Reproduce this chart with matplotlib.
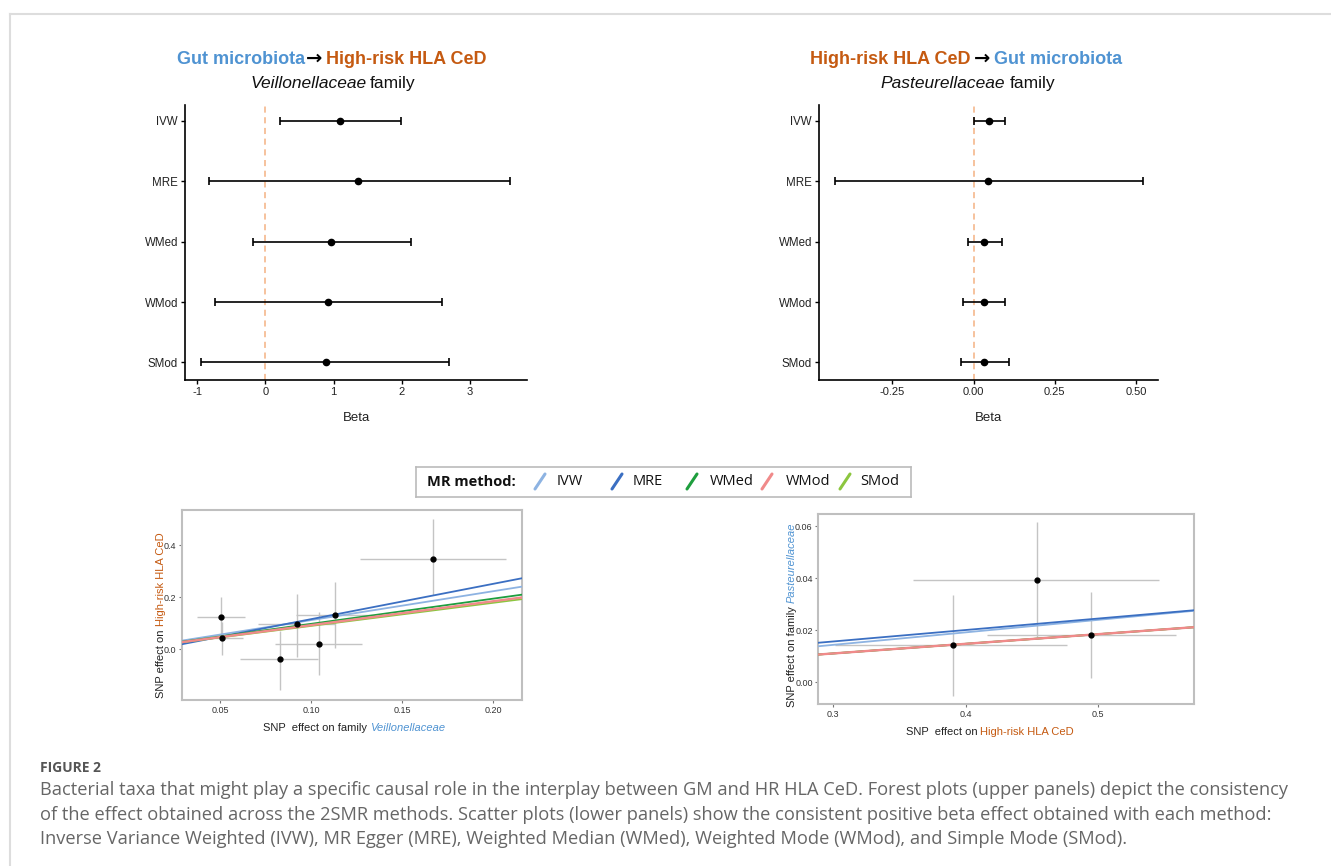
import matplotlib
matplotlib.use('Agg')
import matplotlib.pyplot as plt
import numpy as np
from matplotlib import font_manager
from matplotlib.transforms import IdentityTransform
from matplotlib.lines import Line2D

# forest plots: beta with 95% CI per MR method
methods = ['IVW', 'MRE', 'WMed', 'WMod', 'SMod']

fwd_beta = [1.10, 1.36, 0.97, 0.92, 0.89]
fwd_lo = [0.22, -0.83, -0.18, -0.74, -0.94]
fwd_hi = [1.99, 3.59, 2.14, 2.59, 2.70]

rev_beta = [0.046, 0.044, 0.033, 0.033, 0.032]
rev_lo = [0.002, -0.428, -0.018, -0.031, -0.039]
rev_hi = [0.097, 0.522, 0.087, 0.097, 0.108]

# scatter: SNP effects on exposure / outcome with error bars
fwd_x = [0.0504, 0.0509, 0.0828, 0.0922, 0.1045, 0.1132, 0.1667]
fwd_y = [0.122, 0.041, -0.040, 0.095, 0.018, 0.131, 0.346]
fwd_xlo = [0.0376, 0.0420, 0.0610, 0.0707, 0.0800, 0.0920, 0.1270]
fwd_xhi = [0.0640, 0.0625, 0.1040, 0.1130, 0.1280, 0.1340, 0.2070]
fwd_ylo = [0.042, -0.022, -0.158, -0.030, -0.100, 0.003, 0.208]
fwd_yhi = [0.202, 0.104, 0.069, 0.210, 0.143, 0.259, 0.500]

rev_x = [0.3905, 0.4536, 0.4945]
rev_y = [0.0143, 0.0392, 0.0182]
rev_xlo = [0.3013, 0.3599, 0.4157]
rev_xhi = [0.4762, 0.5460, 0.5589]
rev_ylo = [-0.0051, 0.0175, 0.0015]
rev_yhi = [0.0335, 0.0614, 0.0345]

# regression lines (slope, intercept) per method
fwd_slope = [1.113, 1.36, 0.97, 0.92, 0.89]
fwd_icpt = [0.0, -0.021, 0.0, 0.0, 0.0]
rev_slope = [0.048, 0.044, 0.037, 0.037, 0.037]
rev_icpt = [0.0, 0.0025, 0.0, 0.0, 0.0]

method_colors = ['#8DB3E2', '#3B6FC2', '#1E9E3E', '#F08A8A', '#8CC63F']
line_order = [0, 1, 4, 2, 3]

BLUE = '#4F93D2'
ORANGE = '#C55A11'

names = {f.name for f in font_manager.fontManager.ttflist}
NARROW = 'Liberation Sans Narrow' if 'Liberation Sans Narrow' in names else 'Liberation Sans'
plt.rcParams['font.family'] = ['Liberation Sans', 'DejaVu Sans']

W, H = 1331, 866
fig = plt.figure(figsize=(W / 100, H / 100), dpi=100)


def px_axes(l, t, r, b):
    return fig.add_axes([l / W, 1 - b / H, (r - l) / W, (b - t) / H])


def piece_text(x, y, pieces, size, vertical=False):
    # pieces: (text, gap_before_px, kwargs); x, y in pixels from top-left
    rend = fig.canvas.get_renderer()
    texts = []
    for s, gap, kw in pieces:
        kw = dict(kw)
        kw.setdefault('fontsize', size)
        t = fig.text(0, 0, s, transform=IdentityTransform(),
                     rotation=90 if vertical else 0, rotation_mode='anchor',
                     ha='left', va='baseline', **kw)
        texts.append((t, gap))
    lens = []
    for t, gap in texts:
        bb = t.get_window_extent(rend)
        lens.append(bb.height if vertical else bb.width)
    total = sum(lens) + sum(g for _, g in texts[1:])
    pos = ((H - y) if vertical else x) - total / 2
    for i, (t, gap) in enumerate(texts):
        if i > 0:
            pos += gap
        t.set_position((x, pos) if vertical else (pos, H - y))
        pos += lens[i]


def forest(ax, beta, lo, hi, xlim, xticks, xticklabels):
    ypos = np.arange(len(methods))[::-1] + 1
    b = np.array(beta)
    ax.axvline(0, color='#F4B183', ls=(0, (4, 3)), lw=1.1, zorder=1)
    ax.errorbar(b, ypos, xerr=[b - np.array(lo), np.array(hi) - b], fmt='o',
                color='black', ms=4.5, capsize=3, elinewidth=1.2, capthick=1.2, zorder=3)
    ax.set_xlim(*xlim)
    ax.set_ylim(0.71, 5.26)
    ax.set_yticks(ypos)
    ax.set_yticklabels(methods, fontsize=8.3, family=NARROW, color='#222222')
    ax.set_xticks(xticks)
    ax.set_xticklabels(xticklabels, fontsize=8, color='#222222')
    for s in ['top', 'right']:
        ax.spines[s].set_visible(False)
    for s in ['left', 'bottom']:
        ax.spines[s].set_linewidth(1.2)
    ax.tick_params(length=3, width=1, pad=2)
    ax.set_xlabel('Beta', fontsize=9.5, color='#222222', labelpad=11)


def scatter(ax, x, y, xlo, xhi, ylo, yhi, slope, icpt, xlim, ylim, xticks, xtl, yticks, ytl):
    x = np.array(x); y = np.array(y)
    ax.set_xlim(*xlim)
    ax.set_ylim(*ylim)
    ax.errorbar(x, y, xerr=[x - np.array(xlo), np.array(xhi) - x],
                yerr=[y - np.array(ylo), np.array(yhi) - y], fmt='none',
                ecolor='#C4C4C4', elinewidth=1.0, zorder=1)
    ax.plot(x, y, 'o', color='black', ms=3.5, zorder=4)
    xs = np.array(xlim)
    for i in line_order:
        ax.plot(xs, icpt[i] + slope[i] * xs, color=method_colors[i],
                lw=1.7 if methods[i] == 'WMod' else 1.3, zorder=3)
    ax.set_xticks(xticks)
    ax.set_xticklabels(xtl, fontsize=6.5, family=NARROW, color='#333333')
    ax.set_yticks(yticks)
    ax.set_yticklabels(ytl, fontsize=6.5, family=NARROW, color='#333333')
    for s in ax.spines.values():
        s.set_color('#BFBFBF')
        s.set_linewidth(1.5)
    ax.tick_params(length=2, width=0.8, color='#777777', pad=2)


ax1 = px_axes(185, 105, 527, 380)
forest(ax1, fwd_beta, fwd_lo, fwd_hi, (-1.18, 3.84), [-1, 0, 1, 2, 3],
       ['-1', '0', '1', '2', '3'])
ax2 = px_axes(819, 105, 1158, 380)
forest(ax2, rev_beta, rev_lo, rev_hi, (-0.476, 0.568), [-0.25, 0, 0.25, 0.5],
       ['-0.25', '0.00', '0.25', '0.50'])

ax3 = px_axes(181.7, 510, 521.7, 700)
scatter(ax3, fwd_x, fwd_y, fwd_xlo, fwd_xhi, fwd_ylo, fwd_yhi, fwd_slope, fwd_icpt,
        (0.029, 0.2156), (-0.196, 0.535), [0.05, 0.10, 0.15, 0.20],
        ['0.05', '0.10', '0.15', '0.20'], [0.0, 0.2, 0.4], ['0.0', '0.2', '0.4'])
ax4 = px_axes(818.3, 514.3, 1194.3, 704)
scatter(ax4, rev_x, rev_y, rev_xlo, rev_xhi, rev_ylo, rev_yhi, rev_slope, rev_icpt,
        (0.2887, 0.5724), (-0.0083, 0.0645), [0.3, 0.4, 0.5], ['0.3', '0.4', '0.5'],
        [0.0, 0.02, 0.04, 0.06], ['0.00', '0.02', '0.04', '0.06'])

# titles
bold = dict(fontweight='bold')
arrow = dict(color='black', fontweight='bold', family=['DejaVu Sans'], fontsize=14)
piece_text(332, 64, [('Gut microbiota', 0, dict(color=BLUE, **bold)),
                     ('\u2192', 1, arrow),
                     ('High-risk HLA CeD', 4, dict(color=ORANGE, **bold))], 13)
piece_text(333, 88, [('Veillonellaceae', 0, dict(style='italic', color='#111111')),
                     ('family', 4, dict(color='#111111'))], 12.5)
piece_text(966, 64, [('High-risk HLA CeD', 0, dict(color=ORANGE, **bold)),
                     ('\u2192', 4, arrow),
                     ('Gut microbiota', 4, dict(color=BLUE, **bold))], 13)
piece_text(968, 88, [('Pasteurellaceae', 0, dict(style='italic', color='#111111')),
                     ('family', 4, dict(color='#111111'))], 12.5)

# scatter axis labels
piece_text(354, 731, [('SNP  effect on family', 0, dict(color='#222222')),
                      ('Veillonellaceae', 3, dict(style='italic', color=BLUE))], 8)
piece_text(164, 615, [('SNP effect on', 0, dict(color='#222222')),
                      ('High-risk HLA CeD', 3, dict(color=ORANGE))], 8, vertical=True)
piece_text(990, 735, [('SNP  effect on', 0, dict(color='#222222')),
                      ('High-risk HLA CeD', 3, dict(color=ORANGE))], 8)
piece_text(795, 615, [('SNP effect on family', 0, dict(color='#222222')),
                      ('Pasteurellaceae', 3, dict(style='italic', color=BLUE))], 8, vertical=True)

# legend box
lax = px_axes(415.5, 467, 910.5, 496.5)
lax.set_xlim(415.5, 910.5)
lax.set_ylim(496.5, 467)
lax.set_xticks([]); lax.set_yticks([])
for s in lax.spines.values():
    s.set_color('#BBBBBB')
    s.set_linewidth(1.2)
lfont = ['Open Sans', 'DejaVu Sans']
lax.text(427, 481.5, 'MR method:', fontsize=10.5, fontweight='bold', family=lfont,
         va='center', ha='left', color='#111111')
glyph_x = [540, 617, 692, 767, 845]
text_x = [557, 633, 710, 786, 860]
for i, m in enumerate(methods):
    lax.plot([glyph_x[i] - 5, glyph_x[i] + 5], [489, 474], color=method_colors[i],
             lw=2.2, solid_capstyle='round')
    lax.text(text_x[i], 481.5, m, fontsize=10.5, family=lfont, va='center', ha='left',
             color='#111111')

# page border and caption
fig.add_artist(Line2D([10 / W, 1], [1 - 14 / H, 1 - 14 / H], color='#DDDDDD', lw=1.5))
fig.add_artist(Line2D([10 / W, 10 / W], [0, 1 - 14 / H], color='#DDDDDD', lw=1.5))

cfont = ['Open Sans', 'DejaVu Sans']
fig.text(40 / W, 1 - 768 / H, 'FIGURE 2', fontsize=10, fontweight='bold', family=cfont,
         color='#555555', va='center')
caption = [
    'Bacterial taxa that might play a specific causal role in the interplay between GM and HR HLA CeD. '
    'Forest plots (upper panels) depict the consistency',
    'of the effect obtained across the 2SMR methods. Scatter plots (lower panels) show the consistent '
    'positive beta effect obtained with each method:',
    'Inverse Variance Weighted (IVW), MR Egger (MRE), Weighted Median (WMed), Weighted Mode (WMod), '
    'and Simple Mode (SMod).',
]
for i, line in enumerate(caption):
    fig.text(40 / W, 1 - (790 + 24.5 * i) / H, line, fontsize=13.15, family=cfont,
             color='#666666', va='center')

fig.savefig('out.png', dpi=100)
